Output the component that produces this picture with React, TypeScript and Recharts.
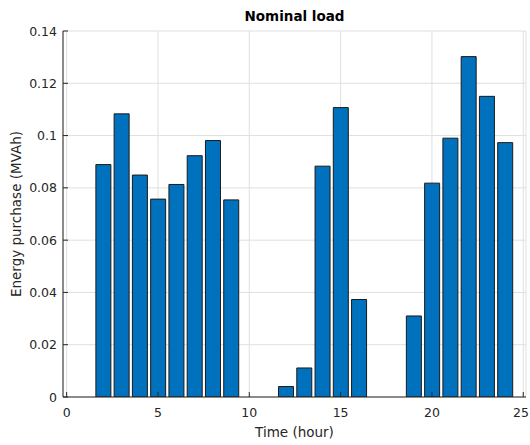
import { BarChart, Bar, XAxis, YAxis, CartesianGrid, Label } from "recharts";

const hours = [
  1, 2, 3, 4, 5, 6, 7, 8, 9, 10, 11, 12, 13, 14, 15, 16, 17, 18, 19, 20, 21,
  22, 23, 24,
];
const purchase = [
  0, 0.0889, 0.1083, 0.0849, 0.0757, 0.0813, 0.0923, 0.0981, 0.0754, 0, 0,
  0.004, 0.0111, 0.0883, 0.1107, 0.0373, 0, 0, 0.031, 0.0818, 0.099, 0.1302,
  0.115, 0.0973,
];
const xTicks = [0, 5, 10, 15, 20, 25];
const yTicks = [0, 0.02, 0.04, 0.06, 0.08, 0.1, 0.12, 0.14];

const data = hours.map((h, i) => ({ hour: h, value: purchase[i] }));

const AXIS = "#262626";
const FONT = "'DejaVu Sans', sans-serif";
const TICK_LEN = 5;

// MATLAB style: ticks point inward, labels outside
const BottomTick = (props: any) => {
  const { x, y, payload } = props;
  // keep the last label inside the figure
  const tx = Math.min(x, 521);
  return (
    <g>
      <line x1={x} y1={y} x2={x} y2={y - TICK_LEN} stroke={AXIS} />
      <text
        x={tx}
        y={y + 20}
        textAnchor="middle"
        fill={AXIS}
        fontSize={12.5}
        fontFamily={FONT}
      >
        {payload.value}
      </text>
    </g>
  );
};

const LeftTick = (props: any) => {
  const { x, y, payload } = props;
  return (
    <g>
      <line x1={x} y1={y} x2={x + TICK_LEN} y2={y} stroke={AXIS} />
      <text
        x={x - 6}
        y={y + 4.5}
        textAnchor="end"
        fill={AXIS}
        fontSize={12.5}
        fontFamily={FONT}
      >
        {payload.value}
      </text>
    </g>
  );
};

const TopTick = (props: any) => {
  const { x, y } = props;
  return <line x1={x} y1={y} x2={x} y2={y + TICK_LEN} stroke={AXIS} />;
};

const RightTick = (props: any) => {
  const { x, y } = props;
  return <line x1={x} y1={y} x2={x - TICK_LEN} y2={y} stroke={AXIS} />;
};

export default function App() {
  return (
    <div
      style={{
        position: "absolute",
        left: 0,
        top: 0,
        width: 530,
        height: 445,
        background: "#fff",
        fontFamily: FONT,
      }}
    >
      <div
        style={{
          position: "absolute",
          left: 0,
          width: 589,
          top: 8,
          textAlign: "center",
          fontWeight: "bold",
          fontSize: 13.5,
          lineHeight: "16px",
          color: "#000",
        }}
      >
        Nominal load
      </div>
      <BarChart
        width={530}
        height={445}
        data={data}
        margin={{ top: 31, right: 4, bottom: 8, left: 8 }}
        barCategoryGap="10%"
      >
        <CartesianGrid stroke="#dfdfdf" />
        <XAxis
          dataKey="hour"
          type="number"
          domain={[-0.2, 25.15]}
          allowDataOverflow
          ticks={xTicks}
          interval={0}
          tickSize={0}
          tickMargin={0}
          tickLine={false}
          tick={<BottomTick />}
          height={40}
          stroke={AXIS}
        >
          <Label
            value="Time (hour)"
            position="insideBottom"
            offset={0}
            fill={AXIS}
            fontSize={13.5}
            fontFamily={FONT}
          />
        </XAxis>
        <XAxis
          xAxisId="top"
          orientation="top"
          dataKey="hour"
          type="number"
          domain={[-0.2, 25.15]}
          allowDataOverflow
          ticks={xTicks}
          interval={0}
          tickSize={0}
          tickMargin={0}
          tickLine={false}
          tick={<TopTick />}
          height={0}
          stroke={AXIS}
        />
        <YAxis
          type="number"
          domain={[0, 0.14]}
          allowDataOverflow
          ticks={yTicks}
          interval={0}
          tickSize={0}
          tickMargin={0}
          tickLine={false}
          tick={<LeftTick />}
          width={55}
          stroke={AXIS}
        >
          <Label
            value="Energy purchase (MVAh)"
            angle={-90}
            position="insideLeft"
            offset={8}
            fill={AXIS}
            fontSize={13.5}
            fontFamily={FONT}
            style={{ textAnchor: "middle" }}
          />
        </YAxis>
        <YAxis
          yAxisId="right"
          orientation="right"
          type="number"
          domain={[0, 0.14]}
          allowDataOverflow
          ticks={yTicks}
          interval={0}
          tickSize={0}
          tickMargin={0}
          tickLine={false}
          tick={<RightTick />}
          width={0}
          stroke={AXIS}
        />
        <Bar
          dataKey="value"
          fill="#0072BD"
          stroke="#1a1a1a"
          strokeWidth={1}
          isAnimationActive={false}
        />
      </BarChart>
    </div>
  );
}
